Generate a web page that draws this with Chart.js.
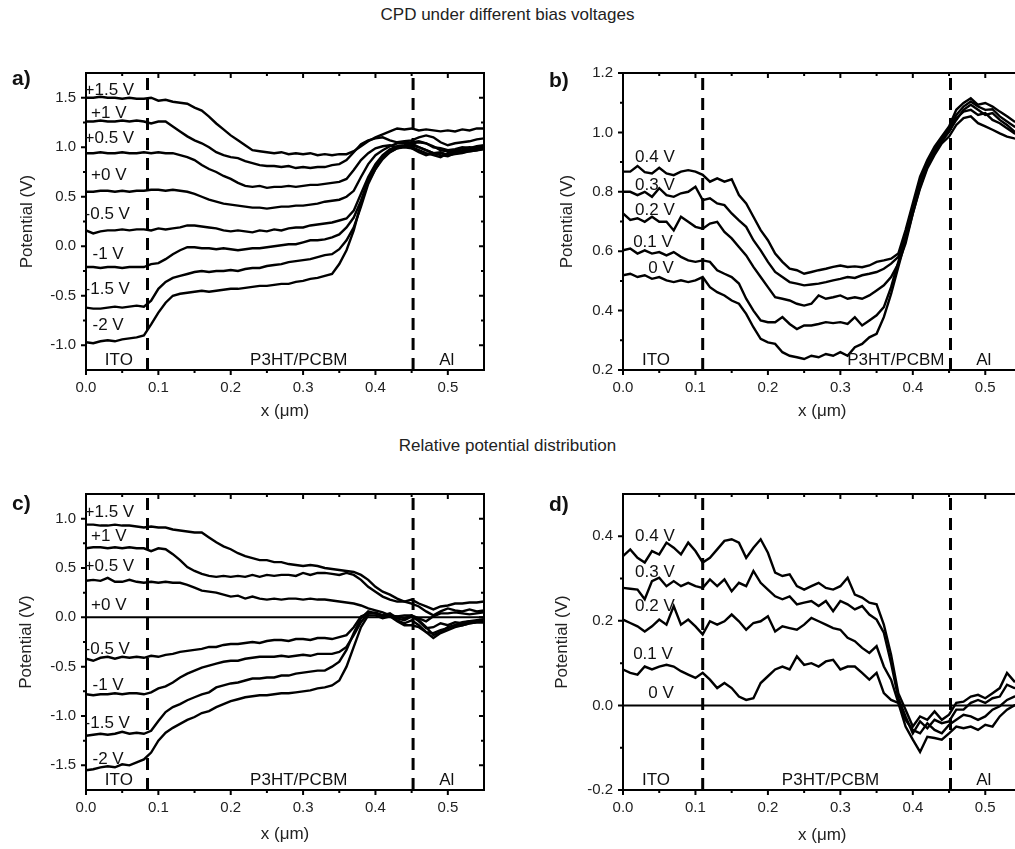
<!DOCTYPE html>
<html>
<head>
<meta charset="utf-8">
<script src="https://cdn.jsdelivr.net/npm/chart.js@4.4.0/dist/chart.umd.min.js"></script>
<style>
  html, body { margin: 0; padding: 0; background: #fff; overflow: hidden; }
  #page { position: relative; width: 1015px; height: 849px; overflow: hidden; font-family: 'Liberation Sans', Arial, sans-serif; color: #222; }
  #page canvas { position: absolute; }
  .title { position: absolute; left: 0; width: 1015px; text-align: center; font-size: 17px; line-height: 20px; }
  .tag { position: absolute; font-weight: bold; font-size: 21px; line-height: 24px; color: #111; }
</style>
</head>
<body>
<div id="page">
  <div class="title" style="top:5px">CPD under different bias voltages</div>
  <canvas id="pa" width="500" height="390" style="left:0;top:40px"></canvas>
  <canvas id="pb" width="530" height="390" style="left:500px;top:40px"></canvas>
  <div class="title" style="top:436px">Relative potential distribution</div>
  <canvas id="pc" width="500" height="389" style="left:0;top:460px"></canvas>
  <canvas id="pd" width="530" height="389" style="left:500px;top:460px"></canvas>
  <div class="tag" style="left:12px;top:66px">a)</div>
  <div class="tag" style="left:549px;top:68px">b)</div>
  <div class="tag" style="left:12px;top:491px">c)</div>
  <div class="tag" style="left:549px;top:492px">d)</div>
</div>
<script>
// position along the line scan (um)
const xs = [0.00,0.01,0.02,0.03,0.04,0.05,0.06,0.07,0.08,0.09,
            0.10,0.11,0.12,0.13,0.14,0.15,0.16,0.17,0.18,0.19,
            0.20,0.21,0.22,0.23,0.24,0.25,0.26,0.27,0.28,0.29,
            0.30,0.31,0.32,0.33,0.34,0.35,0.36,0.37,0.38,0.39,
            0.40,0.41,0.42,0.43,0.44,0.45,0.46,0.47,0.48,0.49,
            0.50,0.51,0.52,0.53,0.54,0.55];

const xTicks = [0, 0.1, 0.2, 0.3, 0.4, 0.5];
const yTicksA = [-1.0, -0.5, 0.0, 0.5, 1.0, 1.5];
const yTicksB = [0.2, 0.4, 0.6, 0.8, 1.0, 1.2];
const yTicksC = [-1.5, -1.0, -0.5, 0.0, 0.5, 1.0];
const yTicksD = [-0.2, 0.0, 0.2, 0.4];

// layer boundaries (ITO | P3HT/PCBM | Al)
const boundsAC = [0.085, 0.452];
const boundsBD = [0.11, 0.452];

// 0 V reference line of the relative plots
const zeroX = [0, 0.55];
const zeroY = [0, 0];

// a) CPD, large bias steps
const aP15 = [1.50,1.50,1.51,1.50,1.50,1.49,1.50,1.49,1.49,1.50,
  1.47,1.48,1.46,1.45,1.44,1.40,1.37,1.31,1.24,1.18,
  1.12,1.07,1.02,0.97,0.96,0.95,0.94,0.95,0.93,0.94,
  0.93,0.94,0.92,0.93,0.92,0.93,0.93,0.96,1.01,1.06,
  1.10,1.13,1.16,1.19,1.18,1.19,1.17,1.18,1.17,1.16,
  1.17,1.16,1.18,1.17,1.19,1.19];
const aP10 = [1.26,1.26,1.27,1.26,1.26,1.27,1.26,1.27,1.26,1.24,
  1.26,1.26,1.21,1.16,1.11,1.07,1.04,1.00,0.95,0.92,
  0.90,0.89,0.86,0.84,0.82,0.81,0.81,0.80,0.81,0.79,
  0.80,0.79,0.80,0.80,0.82,0.83,0.87,0.95,1.03,1.07,
  1.09,1.10,1.07,1.05,1.06,1.07,1.10,1.12,1.10,1.05,
  1.02,1.04,1.05,1.06,1.08,1.09];
const aP05 = [0.94,0.94,0.95,0.94,0.94,0.95,0.94,0.94,0.95,0.94,
  0.95,0.94,0.94,0.92,0.90,0.87,0.82,0.78,0.75,0.71,
  0.68,0.64,0.61,0.60,0.61,0.59,0.60,0.60,0.61,0.60,
  0.61,0.62,0.62,0.63,0.64,0.65,0.68,0.77,0.87,0.94,
  0.99,1.01,1.02,1.00,1.01,1.04,1.05,1.04,1.00,0.99,
  0.97,0.98,1.00,0.99,1.01,1.02];
const aP00 = [0.55,0.55,0.56,0.56,0.55,0.56,0.55,0.56,0.56,0.57,
  0.57,0.56,0.57,0.56,0.55,0.53,0.50,0.47,0.45,0.43,
  0.42,0.41,0.40,0.39,0.39,0.38,0.39,0.40,0.40,0.41,
  0.41,0.42,0.43,0.45,0.46,0.47,0.50,0.56,0.70,0.83,
  0.92,0.97,1.01,1.04,1.04,1.05,1.06,1.04,1.01,0.97,
  0.96,0.97,0.99,1.00,0.99,1.00];
const aM05 = [0.16,0.13,0.15,0.16,0.16,0.17,0.16,0.17,0.17,0.16,
  0.18,0.17,0.18,0.19,0.21,0.21,0.20,0.19,0.18,0.16,
  0.15,0.16,0.15,0.14,0.16,0.15,0.17,0.16,0.18,0.19,
  0.19,0.21,0.22,0.23,0.24,0.26,0.28,0.36,0.53,0.70,
  0.83,0.92,0.98,1.01,1.02,1.04,1.00,0.97,0.94,0.95,
  0.92,0.93,0.94,0.96,0.97,0.99];
const aM10 = [-0.21,-0.21,-0.22,-0.21,-0.21,-0.22,-0.21,-0.21,-0.21,-0.18,
  -0.17,-0.13,-0.08,-0.04,-0.01,-0.01,-0.02,-0.02,-0.03,-0.02,
  -0.03,-0.04,-0.03,-0.02,-0.02,-0.01,0.00,0.01,0.02,0.02,
  0.04,0.06,0.06,0.07,0.09,0.12,0.19,0.29,0.46,0.67,
  0.80,0.90,0.97,1.00,1.01,1.00,0.97,0.94,0.92,0.90,
  0.94,0.96,0.95,0.96,0.97,0.98];
const aM15 = [-0.62,-0.63,-0.63,-0.62,-0.61,-0.62,-0.61,-0.60,-0.61,-0.55,
  -0.43,-0.36,-0.32,-0.30,-0.28,-0.26,-0.25,-0.26,-0.25,-0.25,
  -0.24,-0.25,-0.23,-0.22,-0.22,-0.20,-0.19,-0.18,-0.16,-0.15,
  -0.14,-0.13,-0.11,-0.09,-0.08,-0.03,0.06,0.19,0.40,0.63,
  0.78,0.90,0.95,0.99,1.00,0.99,0.95,0.92,0.94,0.92,
  0.91,0.94,0.95,0.97,0.98,0.99];
const aM20 = [-0.97,-0.98,-0.96,-0.95,-0.96,-0.94,-0.93,-0.92,-0.90,-0.79,
  -0.67,-0.57,-0.50,-0.48,-0.47,-0.46,-0.45,-0.46,-0.45,-0.44,
  -0.43,-0.43,-0.42,-0.41,-0.40,-0.40,-0.39,-0.38,-0.38,-0.36,
  -0.35,-0.33,-0.32,-0.30,-0.28,-0.18,-0.04,0.16,0.43,0.65,
  0.78,0.88,0.95,0.99,1.01,1.02,1.00,0.97,0.94,0.94,
  0.92,0.95,0.97,0.98,1.00,1.01];

// b) CPD, small bias steps
const b04 = [0.868,0.868,0.887,0.866,0.862,0.881,0.862,0.856,0.868,0.873,
  0.868,0.857,0.834,0.845,0.834,0.842,0.789,0.761,0.716,0.671,
  0.637,0.592,0.564,0.541,0.536,0.524,0.530,0.536,0.541,0.547,
  0.552,0.547,0.549,0.546,0.552,0.564,0.569,0.575,0.592,0.671,
  0.761,0.851,0.907,0.952,0.986,1.020,1.076,1.099,1.115,1.093,
  1.099,1.087,1.070,1.054,1.037,1.030];
const b03 = [0.800,0.800,0.789,0.800,0.783,0.812,0.789,0.783,0.795,0.800,
  0.817,0.772,0.778,0.761,0.755,0.727,0.704,0.682,0.637,0.603,
  0.564,0.530,0.513,0.496,0.491,0.485,0.488,0.491,0.496,0.502,
  0.507,0.513,0.510,0.519,0.524,0.530,0.541,0.558,0.581,0.648,
  0.744,0.840,0.902,0.941,0.980,1.014,1.059,1.087,1.104,1.087,
  1.076,1.078,1.054,1.037,1.020,1.009];
const b02 = [0.727,0.705,0.711,0.699,0.716,0.699,0.699,0.670,0.716,0.699,
  0.682,0.676,0.693,0.699,0.665,0.643,0.614,0.586,0.547,0.513,
  0.479,0.445,0.440,0.434,0.423,0.417,0.423,0.451,0.440,0.445,
  0.451,0.440,0.445,0.440,0.451,0.468,0.485,0.513,0.558,0.626,
  0.727,0.817,0.885,0.930,0.969,1.003,1.042,1.076,1.093,1.076,
  1.059,1.065,1.042,1.025,1.003,0.997];
const b01 = [0.603,0.609,0.592,0.603,0.592,0.597,0.586,0.597,0.581,0.569,
  0.564,0.569,0.564,0.536,0.524,0.513,0.491,0.440,0.400,0.367,
  0.361,0.361,0.378,0.355,0.338,0.350,0.350,0.355,0.361,0.358,
  0.361,0.355,0.378,0.350,0.367,0.384,0.412,0.479,0.564,0.648,
  0.744,0.828,0.896,0.941,0.975,1.003,1.048,1.070,1.076,1.059,
  1.065,1.042,1.031,1.014,0.997,0.986];
const b00 = [0.519,0.524,0.513,0.519,0.507,0.513,0.502,0.496,0.502,0.496,
  0.502,0.513,0.479,0.462,0.451,0.434,0.423,0.389,0.344,0.305,
  0.293,0.288,0.260,0.248,0.243,0.237,0.248,0.243,0.254,0.248,
  0.260,0.248,0.277,0.288,0.310,0.322,0.378,0.456,0.547,0.637,
  0.727,0.811,0.879,0.924,0.963,0.986,1.025,1.048,1.054,1.031,
  1.020,1.009,0.997,0.986,0.980,0.975];

// c) relative potential, large bias steps
const cP15 = [0.94,0.94,0.93,0.93,0.94,0.93,0.93,0.92,0.91,0.92,
  0.91,0.91,0.89,0.88,0.87,0.86,0.86,0.81,0.76,0.72,
  0.69,0.65,0.62,0.60,0.58,0.58,0.56,0.56,0.54,0.53,
  0.52,0.53,0.52,0.50,0.49,0.48,0.47,0.46,0.43,0.38,
  0.31,0.26,0.23,0.19,0.16,0.18,0.14,0.11,0.08,0.11,
  0.12,0.14,0.14,0.15,0.15,0.16];
const cP10 = [0.70,0.71,0.71,0.70,0.71,0.70,0.71,0.70,0.70,0.67,
  0.70,0.69,0.64,0.58,0.51,0.47,0.44,0.42,0.41,0.42,
  0.41,0.42,0.41,0.43,0.41,0.43,0.42,0.43,0.43,0.42,
  0.45,0.43,0.45,0.45,0.44,0.43,0.45,0.43,0.38,0.31,
  0.26,0.21,0.18,0.16,0.16,0.14,0.11,0.06,0.02,0.06,
  0.09,0.07,0.06,0.08,0.06,0.07];
const cP05 = [0.37,0.38,0.37,0.40,0.36,0.36,0.38,0.36,0.35,0.36,
  0.35,0.36,0.35,0.35,0.33,0.30,0.27,0.26,0.25,0.23,
  0.21,0.22,0.19,0.21,0.19,0.18,0.19,0.18,0.19,0.19,
  0.18,0.19,0.18,0.18,0.17,0.16,0.15,0.14,0.12,0.09,
  0.07,0.05,0.02,0.01,0.02,0.02,-0.01,-0.04,0.01,0.04,
  0.04,0.05,0.04,0.03,0.04,0.05];
const cM05 = [-0.42,-0.44,-0.41,-0.40,-0.42,-0.40,-0.41,-0.40,-0.41,-0.39,
  -0.40,-0.38,-0.37,-0.35,-0.34,-0.33,-0.32,-0.30,-0.30,-0.28,
  -0.27,-0.27,-0.26,-0.25,-0.26,-0.24,-0.23,-0.23,-0.24,-0.22,
  -0.22,-0.23,-0.21,-0.21,-0.22,-0.20,-0.18,-0.10,0.01,0.04,
  0.05,0.02,0.04,-0.01,-0.03,0.01,-0.04,-0.11,-0.10,-0.06,
  -0.08,-0.05,-0.06,-0.04,-0.04,-0.03];
const cM10 = [-0.78,-0.79,-0.78,-0.78,-0.77,-0.78,-0.77,-0.77,-0.78,-0.76,
  -0.72,-0.70,-0.66,-0.61,-0.57,-0.54,-0.51,-0.49,-0.47,-0.45,
  -0.44,-0.44,-0.42,-0.41,-0.40,-0.40,-0.40,-0.39,-0.40,-0.39,
  -0.38,-0.39,-0.37,-0.37,-0.37,-0.35,-0.30,-0.18,-0.05,0.04,
  0.04,0.01,0.02,-0.03,-0.06,-0.03,-0.08,-0.15,-0.16,-0.13,
  -0.11,-0.08,-0.08,-0.06,-0.05,-0.05];
const cM15 = [-1.20,-1.19,-1.18,-1.19,-1.18,-1.16,-1.18,-1.17,-1.18,-1.15,
  -1.05,-0.96,-0.91,-0.88,-0.84,-0.81,-0.78,-0.76,-0.71,-0.69,
  -0.67,-0.66,-0.64,-0.62,-0.62,-0.61,-0.61,-0.59,-0.59,-0.57,
  -0.56,-0.55,-0.54,-0.54,-0.50,-0.45,-0.33,-0.16,-0.01,0.06,
  0.04,0.02,0.01,0.01,-0.01,0.02,-0.03,-0.10,-0.18,-0.15,
  -0.10,-0.08,-0.05,-0.04,-0.03,-0.02];
const cM20 = [-1.55,-1.54,-1.52,-1.51,-1.52,-1.49,-1.50,-1.47,-1.44,-1.37,
  -1.25,-1.17,-1.12,-1.08,-1.04,-1.01,-0.97,-0.95,-0.91,-0.88,
  -0.85,-0.83,-0.81,-0.80,-0.79,-0.79,-0.78,-0.77,-0.77,-0.76,
  -0.75,-0.74,-0.72,-0.71,-0.69,-0.64,-0.50,-0.30,-0.10,0.02,
  0.02,-0.01,0.01,-0.04,-0.08,-0.08,-0.10,-0.15,-0.21,-0.16,
  -0.13,-0.10,-0.08,-0.06,-0.05,-0.05];

// d) relative potential, small bias steps
const d04 = [0.353,0.369,0.349,0.338,0.365,0.357,0.385,0.373,0.357,0.385,
  0.365,0.338,0.349,0.369,0.389,0.393,0.385,0.349,0.373,0.393,
  0.361,0.314,0.306,0.310,0.282,0.274,0.282,0.290,0.278,0.274,
  0.282,0.302,0.262,0.255,0.243,0.239,0.191,0.120,0.029,-0.010,
  -0.050,-0.026,-0.034,-0.014,-0.034,-0.022,0.006,0.009,0.021,0.025,
  0.017,0.029,0.041,0.077,0.057,0.060];
const d03 = [0.278,0.276,0.274,0.251,0.294,0.302,0.282,0.294,0.282,0.290,
  0.282,0.278,0.298,0.282,0.298,0.270,0.290,0.282,0.318,0.290,
  0.274,0.258,0.251,0.258,0.239,0.243,0.247,0.235,0.247,0.223,
  0.247,0.239,0.227,0.235,0.215,0.203,0.172,0.100,0.017,-0.026,
  -0.066,-0.038,-0.054,-0.034,-0.042,-0.038,-0.010,-0.010,0.006,0.013,
  0.006,0.017,0.021,0.049,0.041,0.045];
const d02 = [0.203,0.195,0.187,0.175,0.187,0.203,0.191,0.235,0.191,0.203,
  0.187,0.168,0.199,0.191,0.199,0.215,0.199,0.179,0.195,0.199,
  0.211,0.175,0.187,0.183,0.179,0.191,0.207,0.199,0.191,0.183,
  0.179,0.160,0.152,0.136,0.124,0.140,0.092,0.061,0.006,-0.034,
  -0.058,-0.066,-0.042,-0.058,-0.066,-0.046,-0.034,-0.022,-0.026,-0.034,
  -0.026,-0.010,-0.002,0.013,0.021,0.025];
const d01 = [0.085,0.077,0.073,0.092,0.085,0.092,0.096,0.092,0.081,0.073,
  0.065,0.077,0.061,0.041,0.053,0.041,0.021,0.013,0.017,0.053,
  0.069,0.085,0.092,0.085,0.116,0.096,0.100,0.092,0.104,0.108,
  0.085,0.092,0.092,0.077,0.061,0.077,0.029,0.013,0.006,-0.050,
  -0.081,-0.110,-0.074,-0.077,-0.081,-0.066,-0.050,-0.054,-0.050,-0.058,
  -0.046,-0.050,-0.026,-0.010,0.000,0.005];

const FONT = "'Liberation Sans', Arial, Helvetica, sans-serif";
Chart.defaults.font.family = FONT;
Chart.defaults.color = '#222';

function midTicks(major, lo, hi) {
  const step = major[1] - major[0];
  const out = [];
  for (let v = major[0] - step / 2; v < hi; v += step) {
    if (v > lo + 1e-9 && v < hi - 1e-9) out.push(v);
  }
  return out;
}

function makePanel(id, p) {
  const datasets = [];
  p.bounds.forEach(bx => {
    datasets.push({
      data: [{x: bx, y: p.yMin}, {x: bx, y: p.yMax}],
      borderColor: '#000', borderWidth: 3, borderDash: [12, 8], pointRadius: 0
    });
  });
  if (p.zero) {
    datasets.push({
      data: zeroX.map((x, i) => ({x: x, y: zeroY[i]})),
      borderColor: '#000', borderWidth: 2, pointRadius: 0
    });
  }
  p.series.forEach(s => {
    datasets.push({
      data: xs.map((x, i) => ({x: x, y: s[i]})),
      borderColor: '#000', borderWidth: 2.4, pointRadius: 0, tension: 0
    });
  });

  // frame with ticks on all four sides, Origin style
  const frame = {
    id: 'frame' + id,
    afterDatasetsDraw(chart) {
      const {ctx, chartArea: a} = chart;
      const sx = chart.scales.x, sy = chart.scales.y;
      ctx.save();
      ctx.strokeStyle = '#000';
      ctx.lineWidth = 2;
      ctx.strokeRect(a.left, a.top, a.right - a.left, a.bottom - a.top);
      ctx.beginPath();
      const xt = (v, len) => {
        const px = sx.getPixelForValue(v);
        ctx.moveTo(px, a.bottom); ctx.lineTo(px, a.bottom + len);
        ctx.moveTo(px, a.top); ctx.lineTo(px, a.top + len);
      };
      const yt = (v, len) => {
        const py = sy.getPixelForValue(v);
        ctx.moveTo(a.left, py); ctx.lineTo(a.left - len, py);
        ctx.moveTo(a.right, py); ctx.lineTo(a.right - len, py);
      };
      xTicks.forEach(v => xt(v, 5));
      midTicks(xTicks, 0, 0.55).forEach(v => xt(v, 3));
      p.yTicks.forEach(v => yt(v, 5));
      midTicks(p.yTicks, p.yMin, p.yMax).forEach(v => yt(v, 3));
      ctx.stroke();
      ctx.restore();
    }
  };

  const notes = {
    id: 'notes' + id,
    afterDatasetsDraw(chart) {
      const {ctx} = chart;
      const sx = chart.scales.x, sy = chart.scales.y;
      ctx.save();
      ctx.fillStyle = '#111';
      ctx.font = '17px ' + FONT;
      ctx.textBaseline = 'middle';
      p.labels.forEach(l => {
        ctx.textAlign = l.mid ? 'center' : 'left';
        ctx.fillText(l.t, sx.getPixelForValue(l.x), sy.getPixelForValue(l.y));
      });
      ctx.restore();
    }
  };

  return new Chart(document.getElementById(id), {
    type: 'line',
    data: {datasets: datasets},
    options: {
      responsive: false,
      animation: false,
      events: [],
      layout: {padding: {top: p.padTop, right: p.padRight, left: 0, bottom: 0}},
      plugins: {legend: {display: false}, tooltip: {enabled: false}},
      scales: {
        x: {
          type: 'linear', min: 0, max: 0.55,
          grid: {display: false, drawTicks: false},
          border: {display: false},
          afterBuildTicks: s => { s.ticks = xTicks.map(v => ({value: v})); },
          afterFit: s => { s.height = p.xAxisH; },
          ticks: {padding: 9, font: {size: 15}, color: '#222', callback: v => Number(v).toFixed(1)},
          title: {display: true, text: 'x (\u03bcm)', font: {size: 17}, color: '#222',
                  padding: {top: 0, bottom: p.xTitlePad}}
        },
        y: {
          type: 'linear', min: p.yMin, max: p.yMax,
          grid: {display: false, drawTicks: false},
          border: {display: false},
          afterBuildTicks: s => { s.ticks = p.yTicks.map(v => ({value: v})); },
          afterFit: s => { s.width = p.yAxisW; },
          ticks: {padding: 10, font: {size: 15}, color: '#222', callback: v => Number(v).toFixed(1)},
          title: {display: true, text: 'Potential (V)', font: {size: 17}, color: '#222',
                  padding: {top: p.yTitlePad, bottom: 0}}
        }
      }
    },
    plugins: [frame, notes]
  });
}

makePanel('pa', {
  yMin: -1.25, yMax: 1.75, yTicks: yTicksA, bounds: boundsAC, zero: false,
  series: [aP15, aP10, aP05, aP00, aM05, aM10, aM15, aM20],
  padTop: 33, padRight: 16, xAxisH: 60, yAxisW: 86, xTitlePad: 8, yTitlePad: 17,
  labels: [
    {t: '+1.5 V', x: -0.002, y: 1.58}, {t: '+1 V', x: 0.007, y: 1.34},
    {t: '+0.5 V', x: -0.002, y: 1.09}, {t: '+0 V', x: 0.007, y: 0.72},
    {t: '-0.5 V', x: -0.002, y: 0.32}, {t: '-1 V', x: 0.009, y: -0.08},
    {t: '-1.5 V', x: -0.002, y: -0.43}, {t: '-2 V', x: 0.009, y: -0.80},
    {t: 'ITO', x: 0.0454, y: -1.15, mid: true},
    {t: 'P3HT/PCBM', x: 0.294, y: -1.15, mid: true},
    {t: 'Al', x: 0.4986, y: -1.15, mid: true}
  ]
});

makePanel('pb', {
  yMin: 0.2, yMax: 1.2, yTicks: yTicksB, bounds: boundsBD, zero: false,
  series: [b04, b03, b02, b01, b00],
  padTop: 33, padRight: 8.5, xAxisH: 60, yAxisW: 123, xTitlePad: 8, yTitlePad: 57,
  labels: [
    {t: '0.4 V', x: 0.0166, y: 0.916}, {t: '0.3 V', x: 0.0166, y: 0.823},
    {t: '0.2 V', x: 0.0166, y: 0.738}, {t: '0.1 V', x: 0.014, y: 0.631},
    {t: '0 V', x: 0.035, y: 0.541},
    {t: 'ITO', x: 0.0455, y: 0.234, mid: true},
    {t: 'P3HT/PCBM', x: 0.3766, y: 0.234, mid: true},
    {t: 'Al', x: 0.498, y: 0.234, mid: true}
  ]
});

makePanel('pc', {
  yMin: -1.75, yMax: 1.25, yTicks: yTicksC, bounds: boundsAC, zero: true,
  series: [cP15, cP10, cP05, cM05, cM10, cM15, cM20],
  padTop: 34, padRight: 16, xAxisH: 59, yAxisW: 86, xTitlePad: 4, yTitlePad: 16,
  labels: [
    {t: '+1.5 V', x: -0.002, y: 1.06}, {t: '+1 V', x: 0.007, y: 0.82},
    {t: '+0.5 V', x: -0.002, y: 0.52}, {t: '+0 V', x: 0.007, y: 0.126},
    {t: '-0.5 V', x: -0.002, y: -0.32}, {t: '-1 V', x: 0.009, y: -0.69},
    {t: '-1.5 V', x: -0.002, y: -1.07}, {t: '-2 V', x: 0.009, y: -1.44},
    {t: 'ITO', x: 0.0454, y: -1.65, mid: true},
    {t: 'P3HT/PCBM', x: 0.294, y: -1.65, mid: true},
    {t: 'Al', x: 0.4986, y: -1.65, mid: true}
  ]
});

makePanel('pd', {
  yMin: -0.2, yMax: 0.5, yTicks: yTicksD, bounds: boundsBD, zero: true,
  series: [d04, d03, d02, d01],
  padTop: 34, padRight: 8.5, xAxisH: 59, yAxisW: 123, xTitlePad: 3, yTitlePad: 52,
  labels: [
    {t: '0.4 V', x: 0.0166, y: 0.40}, {t: '0.3 V', x: 0.0166, y: 0.314},
    {t: '0.2 V', x: 0.0166, y: 0.235}, {t: '0.1 V', x: 0.014, y: 0.12},
    {t: '0 V', x: 0.035, y: 0.029},
    {t: 'ITO', x: 0.0455, y: -0.176, mid: true},
    {t: 'P3HT/PCBM', x: 0.2864, y: -0.176, mid: true},
    {t: 'Al', x: 0.498, y: -0.176, mid: true}
  ]
});
</script>
</body>
</html>
